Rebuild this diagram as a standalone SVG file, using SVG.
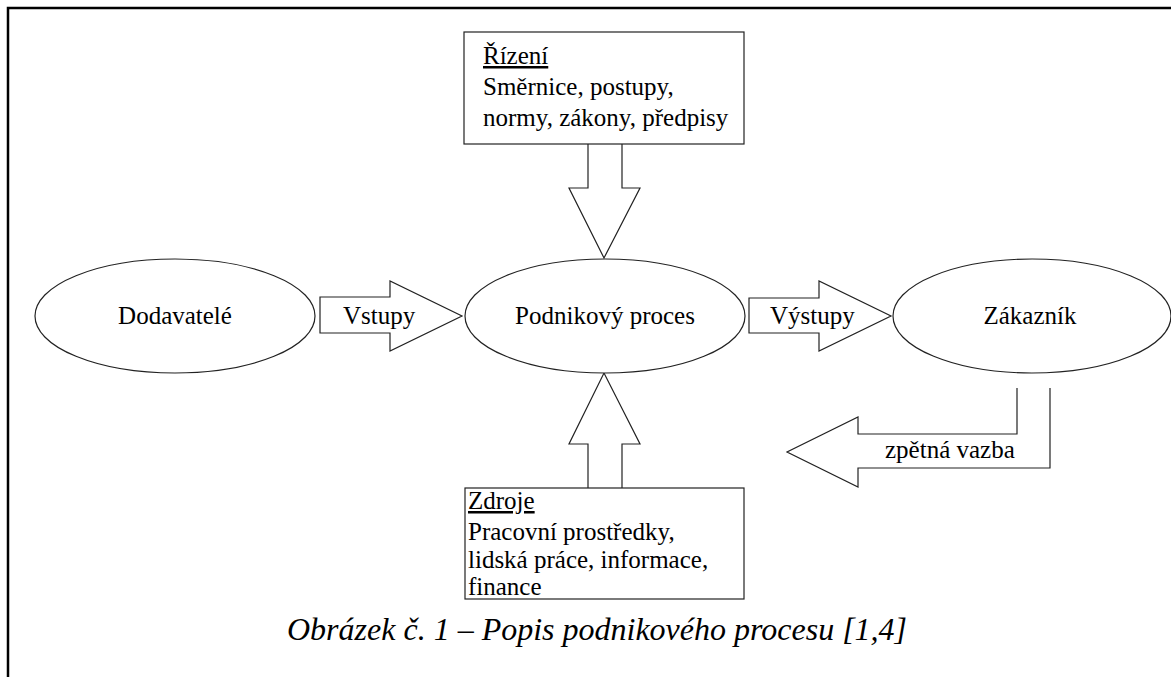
<svg xmlns="http://www.w3.org/2000/svg" width="1171" height="677" viewBox="0 0 1171 677">
  <style>
    .shape { fill: #ffffff; stroke: #222222; stroke-width: 1.2; }
    .frame { fill: none; stroke: #000000; stroke-width: 2.5; }
    .t { font-family: 'Liberation Serif', 'Times New Roman', serif; font-size: 25px; fill: #000000; }
    .mid { text-anchor: middle; }
    .u { text-decoration: underline; }
    .cap { font-family: 'Liberation Serif', 'Times New Roman', serif; font-size: 32px; font-style: italic; fill: #000000; }
  </style>
  <rect width="1171" height="677" fill="#ffffff"/>
  <!-- page frame: top and left edges -->
  <path class="frame" d="M 8 677 L 8 8 L 1171 8"/>

  <g id="connectors">
    <!-- Řízení block arrow pointing down -->
    <path id="arrow-rizeni" class="shape" d="M 588 144 L 588 188 L 569 188 L 604 258 L 640 188 L 622 188 L 622 144"/>
    <!-- Zdroje block arrow pointing up -->
    <path id="arrow-zdroje" class="shape" d="M 588 488 L 588 444 L 569 444 L 604 373 L 640 444 L 622 444 L 622 488"/>
    <!-- Vstupy -->
    <g id="arrow-vstupy">
      <path class="shape" d="M 320 297 L 390 297 L 390 281 L 462 316 L 390 351 L 390 333 L 320 333 Z"/>
      <text class="t" x="343" y="324">Vstupy</text>
    </g>
    <!-- Výstupy -->
    <g id="arrow-vystupy">
      <path class="shape" d="M 749 298 L 819 298 L 819 281 L 891 316 L 819 351 L 819 333 L 749 333 Z"/>
      <text class="t" x="770" y="324">Výstupy</text>
    </g>
    <!-- zpětná vazba -->
    <g id="arrow-zpetna-vazba">
      <path class="shape" d="M 1017 388 L 1017 434 L 858 434 L 858 417 L 787 452 L 858 487 L 858 468 L 1050 468 L 1050 388"/>
      <text class="t" x="885" y="458">zpětná vazba</text>
    </g>
  </g>

  <g id="node-dodavatele">
    <ellipse class="shape" cx="175" cy="316" rx="140" ry="57"/>
    <text class="t mid" x="175" y="324">Dodavatelé</text>
  </g>

  <g id="node-podnikovy-proces">
    <ellipse class="shape" cx="605" cy="316" rx="140" ry="57"/>
    <text class="t mid" x="605" y="324">Podnikový proces</text>
  </g>

  <g id="node-zakaznik">
    <ellipse class="shape" cx="1032" cy="316" rx="139" ry="57"/>
    <text class="t mid" x="1030" y="324">Zákazník</text>
  </g>

  <g id="node-rizeni">
    <rect class="shape" x="464" y="32" width="280" height="112"/>
    <text class="t" x="483" y="64"><tspan class="u">Řízení</tspan></text>
    <text class="t" x="483" y="95">Směrnice, postupy,</text>
    <text class="t" x="483" y="126">normy, zákony, předpisy</text>
  </g>

  <g id="node-zdroje">
    <rect class="shape" x="465" y="488" width="279" height="111"/>
    <text class="t" x="468" y="509"><tspan class="u">Zdroje</tspan></text>
    <text class="t" x="468" y="540">Pracovní prostředky,</text>
    <text class="t" x="468" y="568">lidská práce, informace,</text>
    <text class="t" x="468" y="595">finance</text>
  </g>

  <text class="cap" x="287" y="640">Obrázek č. 1 – Popis podnikového procesu [1,4]</text>
</svg>
